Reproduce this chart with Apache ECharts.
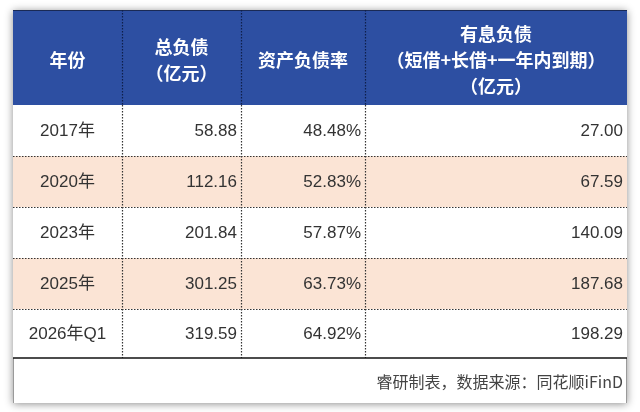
<!DOCTYPE html>
<html>
<head>
<meta charset="utf-8">
<script src="https://cdn.jsdelivr.net/npm/echarts@6/dist/echarts.min.js"></script>
<style>
  html, body { margin: 0; padding: 0; background: #ffffff; }
  #main { width: 640px; height: 412px; }
</style>
</head>
<body>
<div id="main"></div>
<script>
// table contents
var headers = ['年份', '总负债\n（亿元）', '资产负债率', '有息负债\n（短借+长借+一年内到期）\n（亿元）'];
var years = ['2017年', '2020年', '2023年', '2025年', '2026年Q1'];
var totalDebt = [58.88, 112.16, 201.84, 301.25, 319.59];
var debtRatio = [48.48, 52.83, 57.87, 63.73, 64.92];
var interestDebt = [27.00, 67.59, 140.09, 187.68, 198.29];
var sourceNote = '睿研制表，数据来源：同花顺iFinD';

// layout (pixel units of the value axes)
var colEdges = [0, 109, 228, 352, 614];
var rowEdges = [0, 95, 146, 197, 248, 299, 348, 393];

var BLUE = '#2d4fa2';
var PEACH = '#fbe4d5';
var FONT = '"Liberation Sans", "Noto Sans CJK SC", sans-serif';
var CJK = '"Noto Sans CJK SC", sans-serif';
var DOTS = [1.5, 1.5];

// cells: [col0, col1, row0, row1]
var cells = [];
cells.push({ value: [0, 4, 0, 7], kind: 'card' });
headers.forEach(function (h, c) {
  cells.push({ value: [c, c + 1, 0, 1], kind: 'head', text: h });
});
years.forEach(function (y, i) {
  var r = i + 1;
  var cols = [y, totalDebt[i].toFixed(2), debtRatio[i].toFixed(2) + '%', interestDebt[i].toFixed(2)];
  cols.forEach(function (t, c) {
    cells.push({ value: [c, c + 1, r, r + 1], kind: 'body', text: t, stripe: i % 2 === 1 });
  });
});
cells.push({ value: [0, 4, 6, 7], kind: 'foot', text: sourceNote });

function dotted(x1, y1, x2, y2, color) {
  return { type: 'line', z2: 10, shape: { x1: x1, y1: y1, x2: x2, y2: y2 },
    style: { stroke: color, lineWidth: 1.2, lineDash: DOTS } };
}

function renderCell(params, api) {
  var c0 = api.value(0), c1 = api.value(1), r0 = api.value(2), r1 = api.value(3);
  var item = cells[params.dataIndex];
  var p0 = api.coord([colEdges[c0], rowEdges[r0]]);
  var p1 = api.coord([colEdges[c1], rowEdges[r1]]);
  var x = Math.round(p0[0]), y = Math.round(p0[1]);
  var w = Math.round(p1[0]) - x, h = Math.round(p1[1]) - y;
  var kids = [];
  if (item.kind === 'card') {
    kids.push({ type: 'rect', shape: { x: x, y: y, width: w, height: h },
      style: { fill: '#fff', shadowBlur: 8, shadowColor: 'rgba(0,0,0,0.45)', shadowOffsetX: 0, shadowOffsetY: 1 } });
    kids.push({ type: 'line', shape: { x1: x + 0.5, y1: y, x2: x + 0.5, y2: y + h }, style: { stroke: '#9a9a9a', lineWidth: 1 } });
    kids.push({ type: 'line', shape: { x1: x + w - 0.5, y1: y, x2: x + w - 0.5, y2: y + h }, style: { stroke: '#9a9a9a', lineWidth: 1 } });
    return { type: 'group', children: kids };
  }
  if (item.kind === 'head') {
    kids.push({ type: 'rect', shape: { x: x, y: y, width: w, height: h }, style: { fill: BLUE } });
    if (c1 < 4) kids.push(dotted(x + w + 0.5, y, x + w + 0.5, y + h, '#0f1f4a'));
    kids.push({ type: 'line', shape: { x1: x, y1: y + 0.5, x2: x + w, y2: y + 0.5 }, style: { stroke: '#1a2a55', lineWidth: 1 } });
    kids.push({ type: 'text', style: { text: item.text, x: x + w / 2, y: y + h / 2 + 3, align: 'center', verticalAlign: 'middle',
      fill: '#fff', font: 'bold 18px ' + CJK, lineHeight: 26 } });
    return { type: 'group', children: kids };
  }
  if (item.kind === 'body') {
    kids.push({ type: 'rect', shape: { x: x, y: y, width: w, height: h }, style: { fill: item.stripe ? PEACH : '#fff' } });
    if (c1 < 4) kids.push(dotted(x + w + 0.5, y, x + w + 0.5, y + h, '#333'));
    if (r1 < 6) {
      kids.push(dotted(x, y + h + 0.5, x + w, y + h + 0.5, '#333'));
    } else {
      kids.push({ type: 'line', z2: 10, shape: { x1: x, y1: y + h, x2: x + w, y2: y + h }, style: { stroke: '#111', lineWidth: 1.5 } });
    }
    var isFirst = c0 === 0;
    kids.push({ type: 'text', style: { text: item.text, x: isFirst ? x + w / 2 : x + w - 4, y: y + h / 2 + 1,
      align: isFirst ? 'center' : 'right', verticalAlign: 'middle', fill: '#333', font: '17px ' + FONT } });
    return { type: 'group', children: kids };
  }
  // footer
  kids.push({ type: 'text', style: { text: item.text, x: x + w - 4, y: y + h / 2 + 1, align: 'right', verticalAlign: 'middle',
    fill: '#444', font: '16px ' + CJK } });
  return { type: 'group', children: kids };
}

var chart = echarts.init(document.getElementById('main'), null, { renderer: 'canvas' });
chart.setOption({
  animation: false,
  backgroundColor: '#ffffff',
  grid: { left: 13, top: 10, width: 614, height: 393 },
  xAxis: { type: 'value', min: 0, max: 614, show: false },
  yAxis: { type: 'value', min: 0, max: 393, inverse: true, show: false },
  series: [{
    type: 'custom',
    clip: false,
    renderItem: renderCell,
    encode: { x: [0, 1], y: [2, 3] },
    data: cells
  }]
});
</script>
</body>
</html>
